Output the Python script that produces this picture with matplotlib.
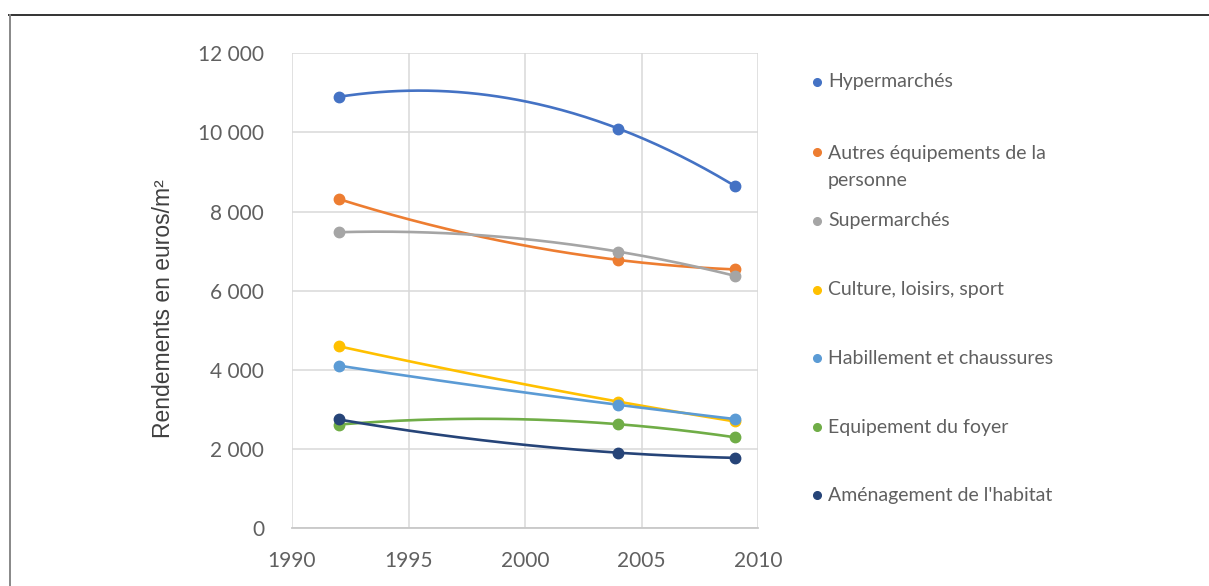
import numpy as np
import matplotlib
matplotlib.use("Agg")
import matplotlib.pyplot as plt
from matplotlib.ticker import FuncFormatter, MultipleLocator
from matplotlib.lines import Line2D

# Survey years and yields (euros per m²) by store category
years = [1992, 2004, 2009]
hypermarches = [10900, 10100, 8650]
autres_personne = [8320, 6780, 6540]
supermarches = [7480, 6990, 6380]
culture = [4600, 3200, 2700]
habillement = [4110, 3120, 2760]
foyer = [2620, 2630, 2300]
habitat = [2750, 1910, 1780]

labels = [
    "Hypermarchés",
    "Autres équipements de la\npersonne",
    "Supermarchés",
    "Culture, loisirs, sport",
    "Habillement et chaussures",
    "Equipement du foyer",
    "Aménagement de l'habitat",
]
series = [hypermarches, autres_personne, supermarches, culture,
          habillement, foyer, habitat]
colors = ["#4472C4", "#ED7D31", "#A5A5A5", "#FFC000",
          "#5B9BD5", "#70AD47", "#264478"]

text_color = "#606060"
font = "Lato"

W, H = 1209, 586
fig = plt.figure(figsize=(W / 100, H / 100), dpi=100)
ax = fig.add_axes([292 / W, 1 - 528.3 / H, (758 - 292) / W, (528.3 - 53.3) / H])


def smooth(xs, ys, n=200):
    """Smooth curve through the points (interpolating polynomial)."""
    xs = np.asarray(xs, float)
    ys = np.asarray(ys, float)
    coeffs = np.polyfit(xs - xs[0], ys, len(xs) - 1)
    xx = np.linspace(xs[0], xs[-1], n)
    return xx, np.polyval(coeffs, xx - xs[0])


for vals, c in zip(series, colors):
    xx, yy = smooth(years, vals)
    ax.plot(xx, yy, color=c, lw=1.9, solid_capstyle="round", zorder=3)
    ax.plot(years, vals, "o", color=c, ms=7.5, zorder=4)

ax.set_xlim(1990, 2010)
ax.set_ylim(0, 12000)
ax.xaxis.set_major_locator(MultipleLocator(5))
ax.yaxis.set_major_locator(MultipleLocator(2000))
ax.yaxis.set_major_formatter(
    FuncFormatter(lambda v, _: f"{v:,.0f}".replace(",", " ")))
ax.grid(True, color="#d9d9d9", lw=1.1, zorder=0)
for s in ax.spines.values():
    s.set_visible(False)
ax.spines["bottom"].set_visible(True)
ax.spines["bottom"].set_color("#c8c8c8")
ax.spines["bottom"].set_linewidth(1.3)
ax.tick_params(length=0, colors=text_color, labelsize=15)
ax.tick_params(axis="y", pad=20)
ax.tick_params(axis="x", pad=16)
for lab in ax.get_xticklabels() + ax.get_yticklabels():
    lab.set_fontfamily(font)

ax.set_ylabel("Rendements en euros/m²", fontsize=16.5, color="#404040",
              family="Liberation Sans")
ax.yaxis.set_label_coords(-0.252, 0.463)

# Legend drawn as a column on the right
leg_y = [82, 152, 221, 290, 358, 427, 495]
for lab, c, y in zip(labels, colors, leg_y):
    fig.add_artist(Line2D([817 / W], [1 - y / H], marker="o", color=c,
                          ms=5.5, lw=0, transform=fig.transFigure))
    if "\n" in lab:
        fig.text(828 / W, 1 - (y - 7) / H, lab, fontsize=14,
                 color=text_color, family=font, va="top", ha="left",
                 linespacing=1.7)
    else:
        fig.text(828 / W, 1 - y / H, lab, fontsize=14, color=text_color,
                 family=font, va="center", ha="left")

# Frame: top rule and left rule
fig.add_artist(Line2D([9 / W, 1], [1 - 14.5 / H, 1 - 14.5 / H],
                      color="#333333", lw=1.4, transform=fig.transFigure))
fig.add_artist(Line2D([9.5 / W, 9.5 / W], [0, 1 - 14.5 / H],
                      color="#888888", lw=1.4, transform=fig.transFigure))

fig.savefig("out.png", dpi=100, facecolor="white")
